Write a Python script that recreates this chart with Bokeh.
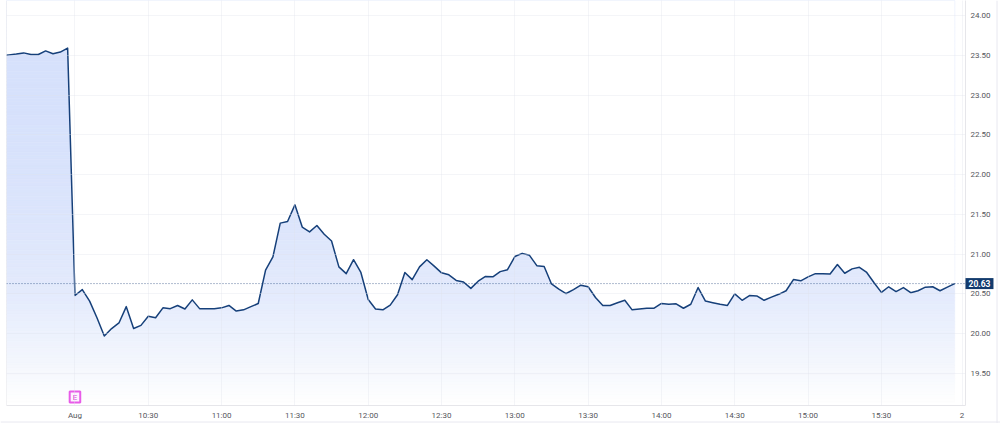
import numpy as np
from bokeh.plotting import figure
from bokeh.embed import file_html
from bokeh.resources import INLINE
from bokeh.models import Range1d, FixedTicker, Span, Label

pre_close = [23.49, 23.505, 23.515, 23.53, 23.51, 23.51, 23.555, 23.52, 23.54, 23.59]
session = [20.48, 20.555, 20.41, 20.20, 19.97, 20.065, 20.135, 20.34, 20.065, 20.105,
           20.22, 20.20, 20.325, 20.315, 20.355, 20.31, 20.425, 20.315, 20.315, 20.315,
           20.325, 20.355, 20.285, 20.30, 20.34, 20.38, 20.80, 20.965, 21.39, 21.41,
           21.62, 21.34, 21.28, 21.36, 21.25, 21.165, 20.84, 20.755, 20.93, 20.77,
           20.43, 20.31, 20.30, 20.36, 20.49, 20.77, 20.68, 20.84, 20.93, 20.85,
           20.765, 20.74, 20.67, 20.65, 20.57, 20.66, 20.72, 20.715, 20.78, 20.805,
           20.97, 21.01, 20.985, 20.855, 20.845, 20.625, 20.56, 20.505, 20.555, 20.61,
           20.59, 20.455, 20.355, 20.355, 20.39, 20.42, 20.30, 20.31, 20.32, 20.32,
           20.38, 20.37, 20.375, 20.32, 20.37, 20.58, 20.41, 20.39, 20.37, 20.355,
           20.50, 20.42, 20.48, 20.475, 20.42, 20.46, 20.495, 20.54, 20.68, 20.665,
           20.715, 20.755, 20.755, 20.75, 20.87, 20.76, 20.815, 20.835, 20.77, 20.64,
           20.52, 20.59, 20.53, 20.58, 20.515, 20.54, 20.585, 20.59, 20.54, 20.585, 20.63]
x_ticks = [0, 10, 20, 30, 40, 50, 60, 70, 80, 90, 100, 110, 121]
x_labels = ["Aug", "10:30", "11:00", "11:30", "12:00", "12:30", "13:00", "13:30",
            "14:00", "14:30", "15:00", "15:30", "2"]
y_ticks = [19.5, 20.0, 20.5, 21.0, 21.5, 22.0, 22.5, 23.0, 23.5, 24.0]
last_price = 20.63
event_x = 0
event_label = "E"
grad_stops_price = [19.14, 19.5, 20.0, 20.5, 21.5, 23.0, 24.19]
grad_stops_rgb = [(255, 255, 255), (247, 249, 254), (237, 242, 253), (228, 235, 253),
                  (220, 229, 252), (214, 225, 252), (216, 227, 253)]

prices = np.array(pre_close + session)
xs = np.arange(-len(pre_close), len(session))

W, H = 1000, 423
fl, fr, ft, fb = 6, 965.5, 0, 405
step = 7.335
x0 = (fl - 74.5) / step
x1 = (fr - 74.5) / step
ppu = 79.55
y_top = 24.0 + (15 - ft) / ppu
y_bot = 24.0 - (fb - 15) / ppu

p = figure(width=W, height=H, output_backend="svg", toolbar_location=None,
           x_range=Range1d(x0, x1), y_range=Range1d(y_bot, y_top),
           min_border_left=fl, min_border_right=W - int(fr), min_border_top=ft,
           min_border_bottom=H - fb, x_axis_location="below", y_axis_location="right",
           background_fill_color="white", border_fill_color="white")
p.outline_line_color = None

edges = np.linspace(y_bot, y_top, 121)
mids = (edges[:-1] + edges[1:]) / 2
rs = [np.interp(mids, grad_stops_price, [c[i] for c in grad_stops_rgb]) for i in range(3)]
cols = ["#%02x%02x%02x" % (int(r), int(g), int(b)) for r, g, b in zip(*rs)]
p.quad(left=xs[0], right=xs[-1], bottom=edges[:-1], top=edges[1:], fill_color=cols, line_color=cols, line_width=0.6)
p.varea(x=xs, y1=prices, y2=np.full(len(xs), y_top), fill_color="white")

p.xaxis.ticker = FixedTicker(ticks=x_ticks)
p.xaxis.major_label_overrides = dict(zip(x_ticks, x_labels))
p.yaxis.ticker = FixedTicker(ticks=y_ticks)
p.yaxis.major_label_overrides = {t: "%.2f" % t for t in y_ticks}
for ax in (p.xaxis[0], p.yaxis[0]):
    ax.major_tick_line_color = None
    ax.minor_tick_line_color = None
    ax.major_tick_out = 0
    ax.major_tick_in = 0
    ax.minor_tick_out = 0
    ax.minor_tick_in = 0
    ax.axis_line_color = "#e6e6ea"
    ax.major_label_text_font = "Roboto"
    ax.major_label_text_font_size = "8px"
    ax.major_label_text_color = "#55565c"
p.xaxis.major_label_standoff = 5
p.yaxis.major_label_standoff = 5

p.xgrid.ticker = FixedTicker(ticks=x_ticks)
p.ygrid.ticker = FixedTicker(ticks=y_ticks)
for g in (p.xgrid[0], p.ygrid[0]):
    g.grid_line_color = "#dfe2ea"
    g.grid_line_alpha = 0.35
    g.grid_line_width = 1
    g.level = "overlay"

p.add_layout(Span(location=x0, dimension="height", line_color="#e6e6ea", line_width=1))
p.add_layout(Span(location=last_price, dimension="width", line_color="#1c3f78", line_width=1, line_dash="1 2", line_alpha=0.7))
p.line(xs, prices, line_color="#16407a", line_width=1.5, line_join="round")

p.add_layout(Label(x=event_x, y=y_bot, y_offset=8.5, text=event_label, text_font="Roboto",
                   text_font_size="8px", text_color="#d633d6", text_align="center", text_baseline="middle",
                   background_fill_color="#fdf2fe", border_line_color="#e85be8", border_line_width=2, padding=(3, 1)))

# transparent overlay: same price scale, reaches the page edges for the tag and outer border
over = figure(width=W, height=H, output_backend="svg", toolbar_location=None,
              x_range=Range1d(0, W), y_range=Range1d(24.0 - (H - 15) / ppu, y_top),
              x_axis_type=None, y_axis_type=None, min_border=0,
              background_fill_alpha=0, border_fill_alpha=0)
over.outline_line_color = None
over.grid.visible = False
over.styles = {"position": "absolute", "left": "0px", "top": "0px"}
over.add_layout(Span(location=996.5, dimension="height", line_color="#e8e8f0", line_width=1))
over.add_layout(Span(location=24.0 - (421.5 - 15) / ppu, dimension="width", line_color="#e8e8f0", line_width=1))
over.add_layout(Label(x=965, y=last_price, text="%.2f" % last_price,
                      text_font="Roboto", text_font_size="8.5px", text_font_style="bold",
                      text_color="white", text_baseline="middle", text_align="left",
                      background_fill_color="#123a6d", padding=(3, 2)))

open("out.html", "w").write(file_html([p, over], INLINE))
